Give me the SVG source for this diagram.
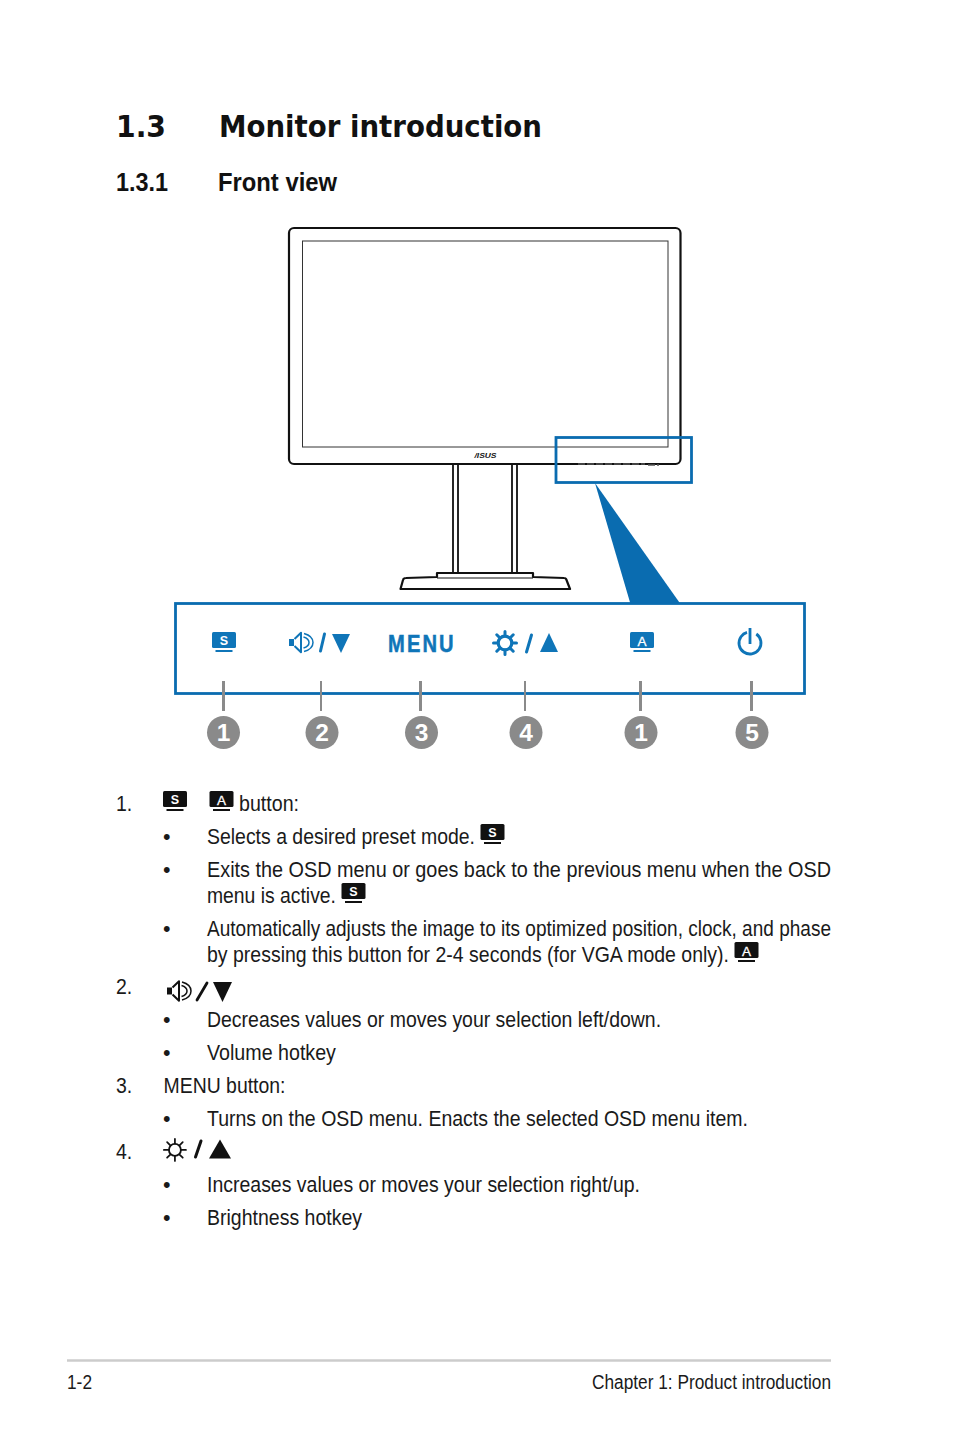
<svg xmlns="http://www.w3.org/2000/svg" width="954" height="1438" viewBox="0 0 954 1438">
<style>
text{font-family:"Liberation Sans",Arial,sans-serif;fill:#1a1a1a}
.h1{font-family:"DejaVu Sans",sans-serif;font-weight:700;font-size:31px;fill:#111}
.h2{font-weight:700;font-size:26px;fill:#111}
.b{font-size:21.5px}
.f{font-size:19.5px}
.m{fill:#fff;stroke:#111;stroke-width:2.2;stroke-linejoin:round}
.t{fill:none;stroke:#111;stroke-width:1.2}
.lead{stroke:#8a8a8a;stroke-width:3}
.bd{fill:#8a8a8a}
.n{font-weight:700;font-size:24.5px;fill:#fff;text-anchor:middle}
.blu{fill:#0f75b8;color:#0f75b8}
.blk{fill:#111;color:#111}
.il{font-weight:700;font-size:12.5px;text-anchor:middle;fill:#fff}
.la{font-size:13.5px;font-weight:400;stroke:#fff;stroke-width:.3}
</style>
<defs>
<g id="mon"><rect x="0" y="0" width="24" height="16" rx="1.500" fill="currentColor"/><path d="M3.500 19H20.500" stroke="currentColor" stroke-width="2" fill="none"/></g>
<g id="spk"><path d="M0 7.500H5V14.500H0Z" fill="currentColor"/><path d="M5.500 7.500 12 1.200V20.800L5.500 14.500" fill="none" stroke="currentColor" stroke-width="2" stroke-linejoin="round"/><path d="M14.500 5.500C18 6.500 20 8.500 20 11S18 15.500 14.500 16.500M15 2C20.500 3.500 24 7 24 11S20.500 18.500 15 20" fill="none" stroke="currentColor" stroke-width="1.500"/></g>
<g id="sun" fill="none" stroke="currentColor"><circle cx="12" cy="12" r="6.800" stroke-width="3.200"/><path d="M12 .5V5M12 19V23.500M.5 12H5M19 12H23.500M3.800 3.800 7 7M17 17 20.200 20.200M20.200 3.800 17 7M7 17 3.800 20.200" stroke-width="3" stroke-linecap="round"/></g>
<g id="sun2" fill="none" stroke="currentColor"><circle cx="12" cy="12" r="6.500" stroke-width="2"/><path d="M12 0V5M12 19V24M0 12H5M19 12H24M3.500 3.500 7 7M17 17 20.500 20.500M20.500 3.500 17 7M7 17 3.500 20.500" stroke-width="1.900" stroke-linecap="round"/></g>
</defs>

<g id="headings">
<text class="h1" x="116" y="137" textLength="50" lengthAdjust="spacingAndGlyphs">1.3</text>
<text class="h1" x="219" y="137" textLength="323" lengthAdjust="spacingAndGlyphs">Monitor introduction</text>
<text class="h2" x="116" y="191" textLength="52" lengthAdjust="spacingAndGlyphs">1.3.1</text>
<text class="h2" x="218" y="191" textLength="119" lengthAdjust="spacingAndGlyphs">Front view</text>
</g>

<g id="monitor">
<path class="m" d="M400.500 589 403 580Q403.500 578 406 578L437 577V573H533V577L564 578Q566 578 566.500 580L570 589Z"/>
<path class="t" d="M437 578H533"/>
<path d="M453 464V573M458 464V573M512 464V573M517 464V573" fill="none" stroke="#111" stroke-width="1.800"/>
<rect class="m" x="289" y="228" width="391.500" height="236" rx="5"/>
<rect x="302.500" y="241" width="365.500" height="206" fill="none" stroke="#333" stroke-width="1"/>
<text x="485.500" y="458" font-size="7" font-style="italic" font-weight="700" text-anchor="middle" style="fill:#111" textLength="22" lengthAdjust="spacingAndGlyphs">/ISUS</text>
<path d="M578 464H645M648 465H659" stroke="#555" stroke-width="1.400" stroke-dasharray="7 2"/>
</g>

<g id="callout">
<rect x="556" y="437.500" width="135.500" height="45" fill="none" stroke="#0a6cb0" stroke-width="2.800"/>
<path d="M595 483 630.500 604H680.500Z" fill="#0a6cb0"/>
<rect x="175.500" y="603.500" width="629" height="90" fill="#fff" stroke="#0a6cb0" stroke-width="2.800"/>
</g>

<g id="panel-icons">
<g id="icon-s" class="blu"><use href="#mon" x="212" y="632"/><text class="il" x="224" y="645">S</text></g>
<g id="icon-vol" class="blu"><use href="#spk" x="289" y="631.500"/><path d="M320.500 651 324.500 634" stroke="#0f75b8" stroke-width="3" stroke-linecap="round"/><path d="M332 634H350L341 653Z"/></g>
<text id="icon-menu" transform="translate(388 652) scale(.84 1)" font-size="24" font-weight="700" letter-spacing="2.500" style="fill:#0f75b8;stroke:#0f75b8;stroke-width:.5">MENU</text>
<g id="icon-sun" class="blu"><use href="#sun" x="493" y="631"/><path d="M526.500 652 531.500 635" stroke="#0f75b8" stroke-width="3" stroke-linecap="round"/><path d="M549 633 558 652H540Z"/></g>
<g id="icon-a" class="blu"><use href="#mon" x="630" y="632"/><text class="il la" x="642" y="646">A</text></g>
<g id="icon-power"><circle cx="750" cy="643" r="11" fill="none" stroke="#0f75b8" stroke-width="2.800" stroke-dasharray="59 10" transform="rotate(-55 750 643)"/><path d="M750 628V644" stroke="#0f75b8" stroke-width="2.800"/></g>
</g>

<g id="connectors">
<path class="lead" d="M223.500 681V711M420.500 681V711M640.500 681V711M751.500 681V711"/>
<path class="lead" style="stroke-width:2" d="M321 681V711M525 681V711"/>
</g>

<g id="badges">
<g id="badge-1a"><circle class="bd" cx="223.500" cy="732.500" r="16.500"/><text class="n" x="223.500" y="741">1</text></g>
<g id="badge-2"><circle class="bd" cx="322" cy="732.500" r="16.500"/><text class="n" x="322" y="741">2</text></g>
<g id="badge-3"><circle class="bd" cx="421.500" cy="732.500" r="16.500"/><text class="n" x="421.500" y="741">3</text></g>
<g id="badge-4"><circle class="bd" cx="526" cy="732.500" r="16.500"/><text class="n" x="526" y="741">4</text></g>
<g id="badge-1b"><circle class="bd" cx="641" cy="732.500" r="16.500"/><text class="n" x="641" y="741">1</text></g>
<g id="badge-5"><circle class="bd" cx="752" cy="732.500" r="16.500"/><text class="n" x="752" y="741">5</text></g>
</g>

<g id="body">
<text class="b" transform="translate(116 811) scale(.905 1)">1.</text>
<g class="blk"><use href="#mon" x="163" y="791"/><text class="il" x="175" y="804">S</text></g>
<g class="blk"><use href="#mon" x="209.500" y="791"/><text class="il la" x="221.500" y="805">A</text></g>
<text class="b" transform="translate(239 811) scale(.905 1)" textLength="66.300" lengthAdjust="spacingAndGlyphs">button:</text>

<text class="b" x="163" y="844">•</text>
<text class="b" transform="translate(207 844) scale(.905 1)" textLength="296.100" lengthAdjust="spacingAndGlyphs">Selects a desired preset mode.</text>
<g class="blk"><use href="#mon" x="480.500" y="824"/><text class="il" x="492.500" y="837">S</text></g>

<text class="b" x="163" y="877">•</text>
<text class="b" transform="translate(207 877) scale(.905 1)" textLength="689.500" lengthAdjust="spacingAndGlyphs">Exits the OSD menu or goes back to the previous menu when the OSD</text>
<text class="b" transform="translate(207 903) scale(.905 1)" textLength="142.500" lengthAdjust="spacingAndGlyphs">menu is active.</text>
<g class="blk"><use href="#mon" x="341.500" y="883"/><text class="il" x="353.500" y="896">S</text></g>

<text class="b" x="163" y="936">•</text>
<text class="b" transform="translate(207 936) scale(.905 1)" textLength="689.500" lengthAdjust="spacingAndGlyphs">Automatically adjusts the image to its optimized position, clock, and phase</text>
<text class="b" transform="translate(207 962) scale(.905 1)" textLength="576.800" lengthAdjust="spacingAndGlyphs">by pressing this button for 2-4 seconds (for VGA mode only).</text>
<g class="blk"><use href="#mon" x="734.500" y="942"/><text class="il la" x="746.500" y="956">A</text></g>

<text class="b" transform="translate(116 994) scale(.905 1)">2.</text>
<g class="blk"><use href="#spk" x="167" y="980"/><path d="M197 1000 207 983" stroke="#111" stroke-width="2.800" stroke-linecap="round"/><path d="M213 982H232L222.500 1002Z"/></g>

<text class="b" x="163" y="1027">•</text>
<text class="b" transform="translate(207 1027) scale(.905 1)" textLength="501.700" lengthAdjust="spacingAndGlyphs">Decreases values or moves your selection left/down.</text>
<text class="b" x="163" y="1060">•</text>
<text class="b" transform="translate(207 1060) scale(.905 1)" textLength="142.500" lengthAdjust="spacingAndGlyphs">Volume hotkey</text>
<text class="b" transform="translate(116 1093) scale(.905 1)">3.</text>
<text class="b" transform="translate(163.500 1093) scale(.905 1)" textLength="134.800" lengthAdjust="spacingAndGlyphs">MENU button:</text>
<text class="b" x="163" y="1126">•</text>
<text class="b" transform="translate(207 1126) scale(.905 1)" textLength="597.800" lengthAdjust="spacingAndGlyphs">Turns on the OSD menu. Enacts the selected OSD menu item.</text>

<text class="b" transform="translate(116 1159) scale(.905 1)">4.</text>
<g class="blk"><use href="#sun2" x="164" y="1139" transform="translate(13 91) scale(.92)"/><path d="M195.500 1157 201 1141" stroke="#111" stroke-width="3" stroke-linecap="round"/><path d="M220 1139.500 231 1158.500H209Z"/></g>

<text class="b" x="163" y="1192">•</text>
<text class="b" transform="translate(207 1192) scale(.905 1)" textLength="478.500" lengthAdjust="spacingAndGlyphs">Increases values or moves your selection right/up.</text>
<text class="b" x="163" y="1225">•</text>
<text class="b" transform="translate(207 1225) scale(.905 1)" textLength="171.300" lengthAdjust="spacingAndGlyphs">Brightness hotkey</text>
</g>

<g id="footer">
<path d="M67 1360.500H831" stroke="#ccc" stroke-width="2.400"/>
<text class="f" x="67" y="1389" textLength="25" lengthAdjust="spacingAndGlyphs">1-2</text>
<text class="f" x="592" y="1389" textLength="239" lengthAdjust="spacingAndGlyphs">Chapter 1: Product introduction</text>
</g>
</svg>
